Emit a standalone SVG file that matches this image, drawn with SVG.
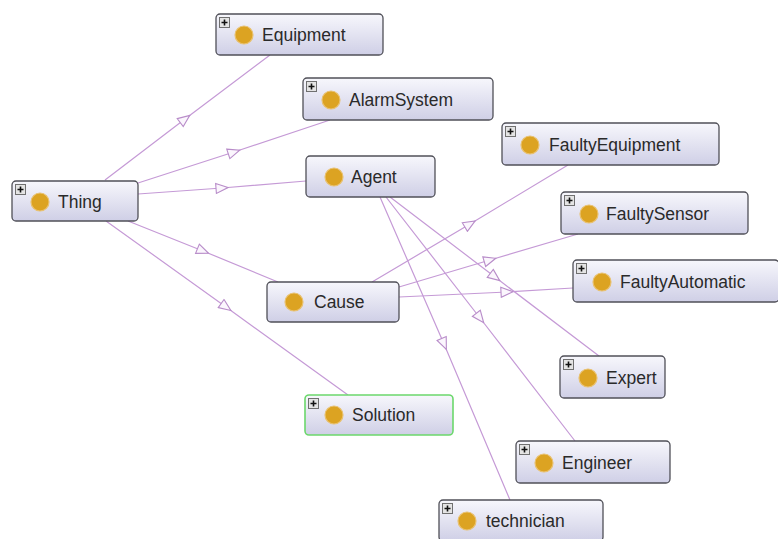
<svg xmlns="http://www.w3.org/2000/svg" xmlns:xlink="http://www.w3.org/1999/xlink" width="778" height="539" viewBox="0 0 778 539">
<style>
.box{fill:url(#g);stroke:#505058;stroke-width:1.3}
.sel{stroke:#6cd86c;stroke-width:1.6}
.dot{fill:#dca322;stroke:#e9c170;stroke-width:1.2}
.lbl{font-family:"Liberation Sans",Arial,sans-serif;font-size:17.5px;fill:#2a2a2a}
.edge{fill:none;stroke:#c59ad6;stroke-width:1.2;marker-mid:url(#tri)}
</style>
<defs>
<linearGradient id="g" x1="0" y1="0" x2="0" y2="1">
<stop offset="0" stop-color="#f7f7fc"/>
<stop offset="1" stop-color="#cfcfe6"/>
</linearGradient>
<marker id="tri" viewBox="0 0 14 12" markerWidth="14" markerHeight="12" refX="7" refY="6" orient="auto" markerUnits="userSpaceOnUse">
<path d="M1,1 L13,6 L1,11 Z" fill="#fbf6fd" stroke="#b88cc9" stroke-width="1.1"/>
</marker>
<symbol id="plus" viewBox="0 0 11 11" width="11" height="11">
<rect x="0.5" y="0.5" width="10" height="10" fill="#e4e4e4" stroke="#707070"/>
<path d="M5.5,2.5 V8.5 M2.5,5.5 H8.5" stroke="#111" stroke-width="1.6"/>
</symbol>
</defs>
<rect width="778" height="539" fill="#ffffff"/>
<g id="connectors">
<path class="edge" d="M105,180 L185,119 L270,55"/>
<path class="edge" d="M138,183 L234,152 L330,120"/>
<path class="edge" d="M138,194 L222,188 L306,181"/>
<path class="edge" d="M128,221 L203,251 L278,282"/>
<path class="edge" d="M106,221 L226,307 L348,395"/>
<path class="edge" d="M372,282 L470,224 L568,165"/>
<path class="edge" d="M399,287 L490,260 L578,234"/>
<path class="edge" d="M399,297 L507,292 L573,288"/>
<path class="edge" d="M390,197 L495,277 L599,356"/>
<path class="edge" d="M386,197 L480,318 L575,441"/>
<path class="edge" d="M380,197 L444,344 L510,500"/>
</g>
<g id="Thing">
<rect class="box" x="12" y="181" width="126" height="40" rx="4"/>
<use xlink:href="#plus" x="15" y="184"/>
<circle class="dot" cx="40" cy="202" r="9"/>
<text class="lbl" x="58" y="208">Thing</text>
</g>
<g id="Equipment">
<rect class="box" x="216" y="14" width="167" height="41" rx="4"/>
<use xlink:href="#plus" x="219" y="17"/>
<circle class="dot" cx="244" cy="35" r="9"/>
<text class="lbl" x="262" y="41">Equipment</text>
</g>
<g id="AlarmSystem">
<rect class="box" x="303" y="78" width="190" height="42" rx="4"/>
<use xlink:href="#plus" x="306" y="81"/>
<circle class="dot" cx="331" cy="100" r="9"/>
<text class="lbl" x="349" y="106">AlarmSystem</text>
</g>
<g id="Agent">
<rect class="box" x="306" y="156" width="129" height="41" rx="4"/>
<circle class="dot" cx="334" cy="177" r="9"/>
<text class="lbl" x="351" y="183">Agent</text>
</g>
<g id="Cause">
<rect class="box" x="267" y="282" width="132" height="40" rx="4"/>
<circle class="dot" cx="294" cy="302" r="9"/>
<text class="lbl" x="314" y="308">Cause</text>
</g>
<g id="Solution">
<rect class="box sel" x="305" y="395" width="148" height="40" rx="4"/>
<use xlink:href="#plus" x="308" y="398"/>
<circle class="dot" cx="334" cy="415" r="9"/>
<text class="lbl" x="352" y="421">Solution</text>
</g>
<g id="FaultyEquipment">
<rect class="box" x="502" y="123" width="217" height="42" rx="4"/>
<use xlink:href="#plus" x="505" y="126"/>
<circle class="dot" cx="530" cy="145" r="9"/>
<text class="lbl" x="549" y="151">FaultyEquipment</text>
</g>
<g id="FaultySensor">
<rect class="box" x="561" y="192" width="187" height="42" rx="4"/>
<use xlink:href="#plus" x="564" y="195"/>
<circle class="dot" cx="589" cy="214" r="9"/>
<text class="lbl" x="606" y="220">FaultySensor</text>
</g>
<g id="FaultyAutomatic">
<rect class="box" x="573" y="260" width="206" height="42" rx="4"/>
<use xlink:href="#plus" x="576" y="263"/>
<circle class="dot" cx="602" cy="282" r="9"/>
<text class="lbl" x="620" y="288">FaultyAutomatic</text>
</g>
<g id="Expert">
<rect class="box" x="560" y="356" width="105" height="42" rx="4"/>
<use xlink:href="#plus" x="563" y="359"/>
<circle class="dot" cx="588" cy="378" r="9"/>
<text class="lbl" x="606" y="384">Expert</text>
</g>
<g id="Engineer">
<rect class="box" x="516" y="441" width="154" height="42" rx="4"/>
<use xlink:href="#plus" x="519" y="444"/>
<circle class="dot" cx="544" cy="463" r="9"/>
<text class="lbl" x="562" y="469">Engineer</text>
</g>
<g id="technician">
<rect class="box" x="439" y="500" width="164" height="41" rx="4"/>
<use xlink:href="#plus" x="442" y="503"/>
<circle class="dot" cx="467" cy="521" r="9"/>
<text class="lbl" x="486" y="527">technician</text>
</g>
</svg>
